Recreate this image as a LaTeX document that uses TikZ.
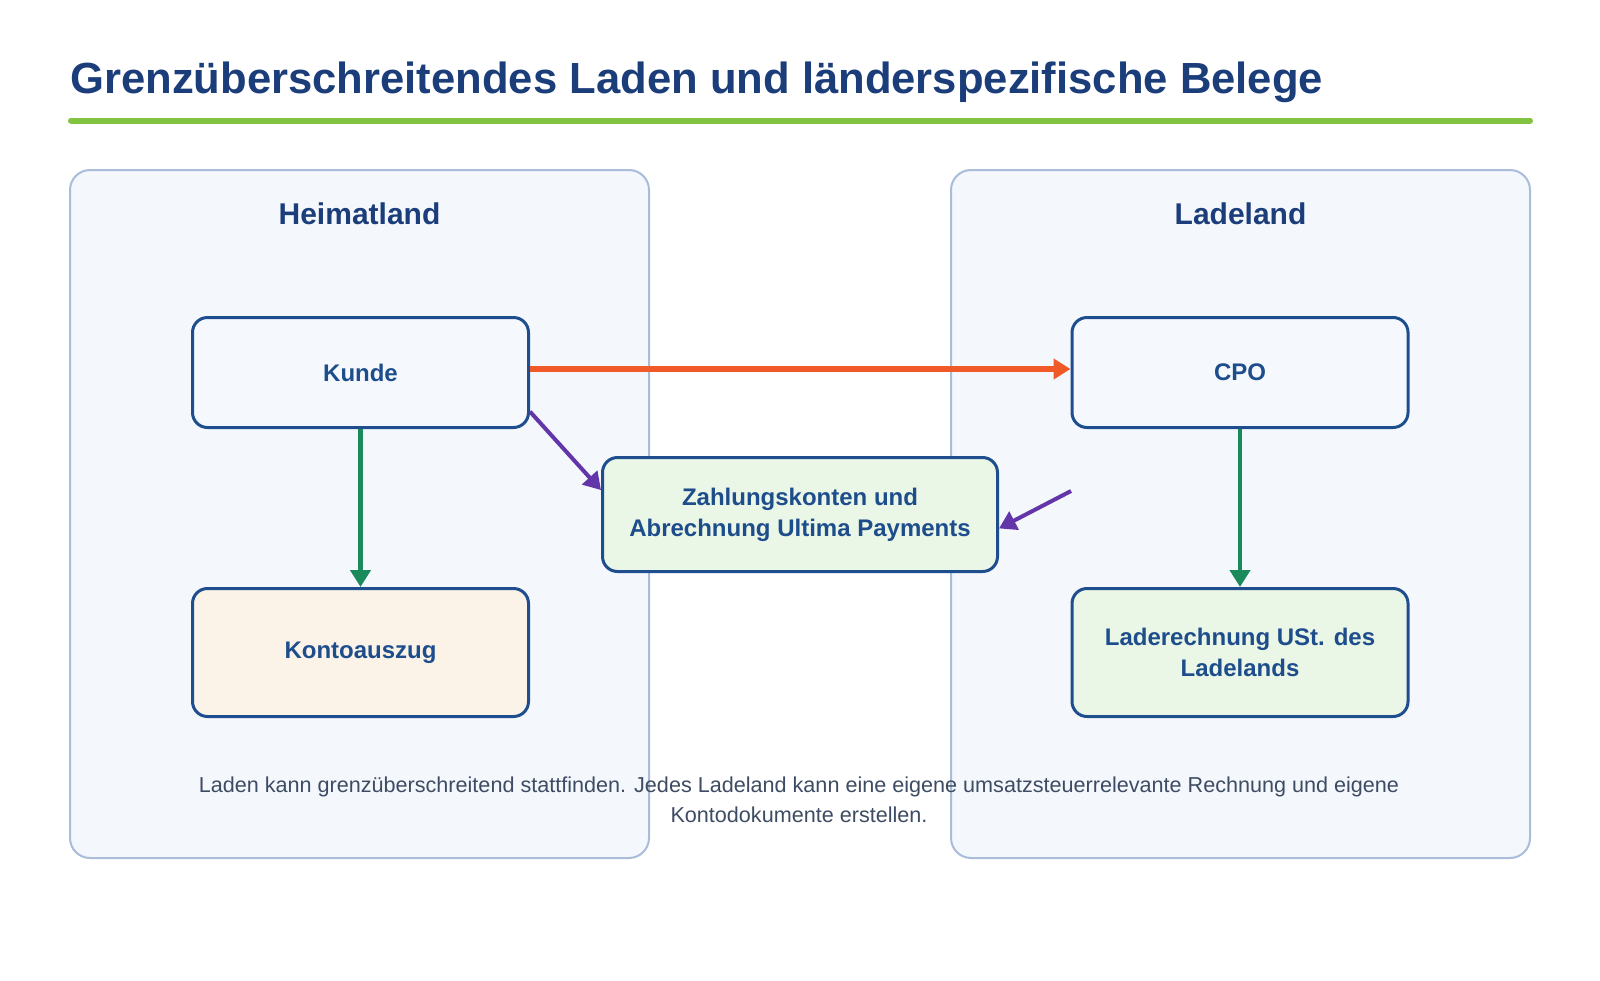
\documentclass[tikz,border=0pt]{standalone}
\usepackage{fontspec}
\setmainfont{Liberation Sans}
\usepackage{tikz}
\usetikzlibrary{positioning,arrows.meta,calc}
\definecolor{titel}{RGB}{27,61,122}
\definecolor{rahmen}{RGB}{31,78,143}
\definecolor{knotentext}{RGB}{30,77,140}
\definecolor{panelfill}{RGB}{244,247,252}
\definecolor{panelrand}{RGB}{169,189,218}
\definecolor{linie}{RGB}{130,195,65}
\definecolor{orangepfeil}{RGB}{240,90,40}
\definecolor{gruenpfeil}{RGB}{26,138,92}
\definecolor{lilapfeil}{RGB}{98,54,168}
\definecolor{boxblau}{RGB}{245,249,254}
\definecolor{boxcreme}{RGB}{251,243,232}
\definecolor{boxgruen}{RGB}{234,246,230}
\definecolor{notiz}{RGB}{62,76,99}

\begin{document}
\begin{tikzpicture}[x=0.5pt,y=-0.5pt,
    panel/.style={draw=panelrand,fill=panelfill,line width=1pt,rounded corners=10pt},
    kopf/.style={text=titel,font=\fontsize{15}{18}\selectfont\bfseries},
    box/.style={draw=rahmen,line width=1.5pt,rounded corners=7.5pt,minimum width=168pt,
      minimum height=55pt,align=center,text=knotentext,inner sep=0pt,
      font=\fontsize{12}{15.4}\selectfont\bfseries},
    pfeil/.style={-{Triangle[length=8.5pt,width=10pt]}}]
    \useasboundingbox (0,0) rectangle (1600,980);
    \fill[white] (0,0) rectangle (1600,980);

    % Titel
    \node[anchor=base west,inner sep=0pt,text=titel,font=\fontsize{21.8}{26}\selectfont\bfseries] (titel) at (70,93)
      {Grenzüberschreitendes Laden und länderspezifische Belege};
    \draw[linie,line width=3pt,line cap=round] (71,120.5) -- (1530,120.5);

    % Länder
    \draw[panel] (70,170) rectangle (649,858);
    \draw[panel] (951,170) rectangle (1530,858);
    \node[kopf] (heimat) at (359.5,214) {Heimatland};
    \node[kopf] (lade) at (1240.5,214) {Ladeland};

    % Knoten
    \node[box,fill=boxblau] (kunde) at (360.5,372.5) {Kunde};
    \node[box,fill=boxblau] (cpo) at (1240,372.5) {CPO};
    \node[box,fill=boxcreme,minimum height=64pt] (konto) at (360.5,652.5) {Kontoauszug};
    \node[box,fill=boxgruen,minimum height=64pt] (rechnung) at (1240,652.5) {Laderechnung USt. des\\Ladelands};
    \node[box,fill=boxgruen,minimum width=197.5pt,minimum height=57pt] (zahlung) at (800,514.5)
      {Zahlungskonten und\\Abrechnung Ultima Payments};

    % Pfeile
    \draw[pfeil,orangepfeil,line width=3pt] ([yshift=1.75pt]kunde.east) -- ([yshift=1.75pt]cpo.west);
    \draw[pfeil,gruenpfeil,line width=2.25pt] (kunde.south) -- (konto.north);
    \draw[pfeil,gruenpfeil,line width=2.25pt] (cpo.south) -- (rechnung.north);
    \draw[pfeil,lilapfeil,line width=2pt] (kunde.-13) -- (zahlung.173);
    \coordinate (ladeab) at (1071,491);
    \draw[pfeil,lilapfeil,line width=2pt] (ladeab) -- (zahlung.-4);

    % Hinweis
    \node[align=center,text=notiz,font=\fontsize{10.8}{15}\selectfont] (hinweis) at (799,800)
      {Laden kann grenzüberschreitend stattfinden. Jedes Ladeland kann eine eigene umsatzsteuerrelevante Rechnung und eigene\\Kontodokumente erstellen.};
\end{tikzpicture}
\end{document}
